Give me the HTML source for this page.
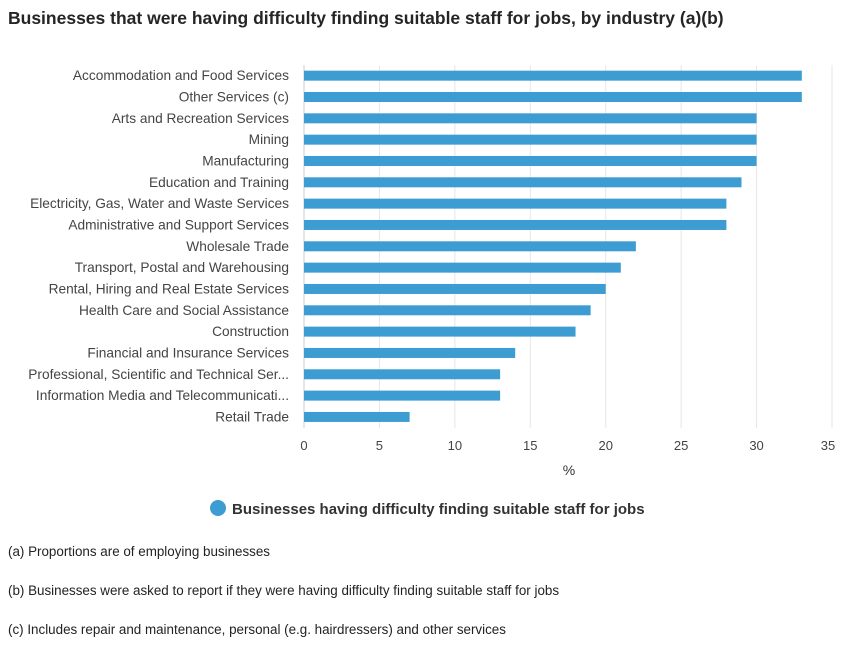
<!DOCTYPE html>
<html><head><meta charset="utf-8"><style>
body{margin:0;background:#fff;font-family:"Liberation Sans",sans-serif;}
svg text{font-family:"Liberation Sans",sans-serif;}
</style></head><body>
<svg width="841" height="662" xmlns="http://www.w3.org/2000/svg">
<text x="8" y="24" font-size="17.5" font-weight="bold" fill="#252525">Businesses that were having difficulty finding suitable staff for jobs, by industry (a)(b)</text>
<g id="grid"></g>
<g id="bars"></g>
<g id="labels"></g>
<g id="ticks"></g>
<text x="569" y="475" font-size="14" fill="#333" text-anchor="middle">%</text>
<circle cx="218" cy="508" r="8" fill="#3d9dd3"/>
<text x="232" y="514" font-size="15" font-weight="bold" fill="#333">Businesses having difficulty finding suitable staff for jobs</text>
<text x="8" y="556" font-size="13.4" fill="#222">(a) Proportions are of employing businesses</text>
<text x="8" y="595" font-size="13.4" fill="#222">(b) Businesses were asked to report if they were having difficulty finding suitable staff for jobs</text>
<text x="8" y="634" font-size="13.4" fill="#222">(c) Includes repair and maintenance, personal (e.g. hairdressers) and other services</text>
</svg>
<script>
const categories=["Accommodation and Food Services","Other Services (c)","Arts and Recreation Services","Mining","Manufacturing","Education and Training","Electricity, Gas, Water and Waste Services","Administrative and Support Services","Wholesale Trade","Transport, Postal and Warehousing","Rental, Hiring and Real Estate Services","Health Care and Social Assistance","Construction","Financial and Insurance Services","Professional, Scientific and Technical Ser...","Information Media and Telecommunicati...","Retail Trade"];
const values=[33,33,30,30,30,29,28,28,22,21,20,19,18,14,13,13,7];
const tickValues=[0,5,10,15,20,25,30,35];
const NS="http://www.w3.org/2000/svg";
const x0=304,x1=832,xmax=35,top0=65,step=21.33;
function xs(v){return x0+(x1-x0)*v/xmax;}
function yc(i){return top0+step*(i+0.5);}
function mk(t,a){const e=document.createElementNS(NS,t);for(const k in a)e.setAttribute(k,a[k]);return e;}
const grid=document.getElementById('grid'),bars=document.getElementById('bars'),labels=document.getElementById('labels'),ticks=document.getElementById('ticks');
tickValues.forEach(v=>{
 const l=mk('line',{x1:xs(v),x2:xs(v),y1:65,y2:428,stroke:v===0?'#ccc':'#e6e6e6','stroke-width':1});
 
 
 grid.appendChild(l);
 const t=mk('text',{x:xs(v)-(v===35?4:0),y:450,'font-size':13,fill:'#444','text-anchor':'middle'});
 t.textContent=v;
 
 
 ticks.appendChild(t);
});
categories.forEach((c,i)=>{
 const r=mk('rect',{x:x0,y:yc(i)-5,width:xs(values[i])-x0,height:10,fill:'#3d9dd3'});
 
 
 bars.appendChild(r);
 const t=mk('text',{x:289,y:yc(i)+4.5,'font-size':13.7,fill:'#444','text-anchor':'end'});
 t.textContent=c;
 
 
 labels.appendChild(t);
});
</script>
</body></html>
